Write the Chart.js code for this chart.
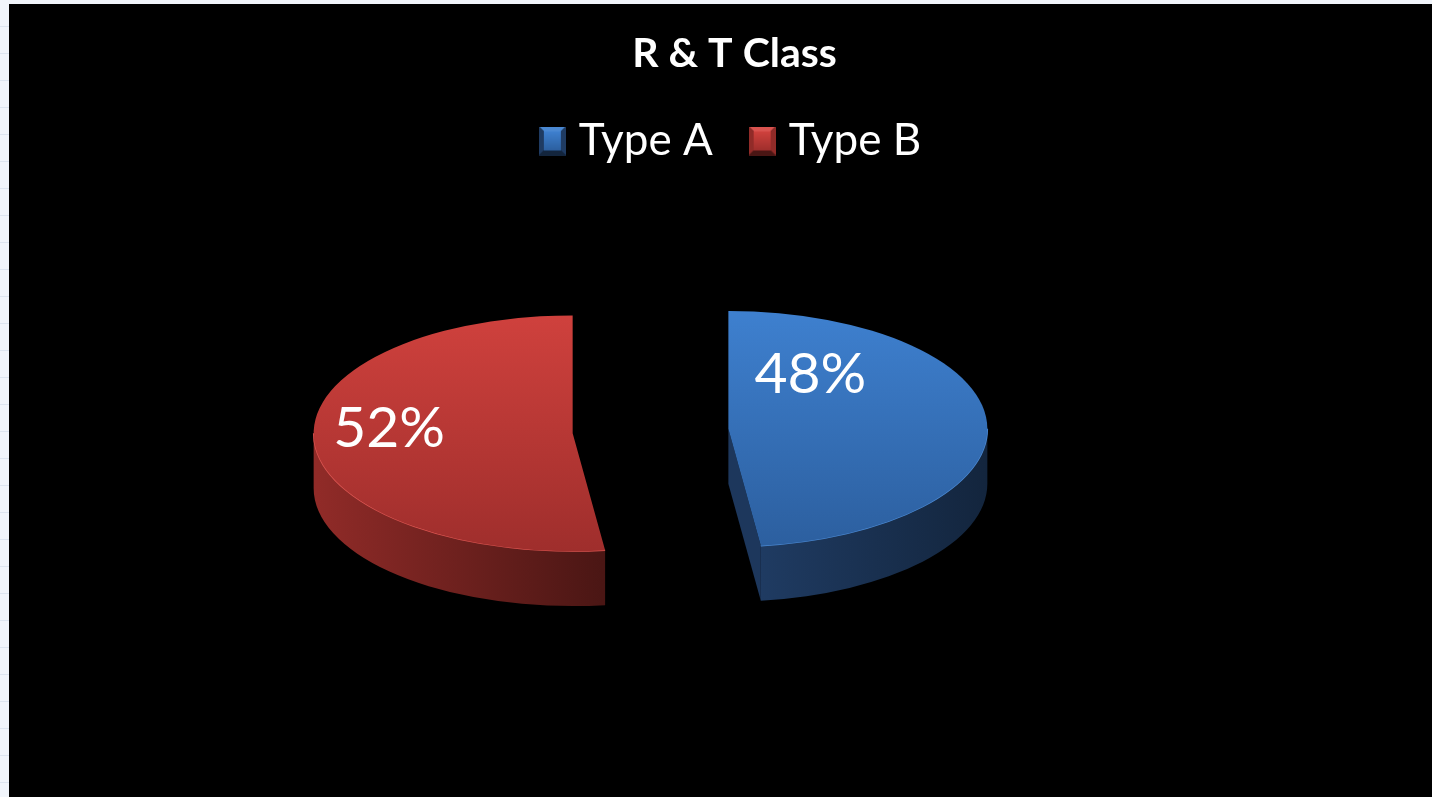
<!DOCTYPE html>
<html>
<head>
<meta charset="utf-8">
<title>R &amp; T Class</title>
<script src="https://cdn.jsdelivr.net/npm/chart.js@4.4.1/dist/chart.umd.min.js"></script>
<style>
  html, body { margin: 0; height: 100%; }
  body {
    background-color: #f1f5fb;
    background-image: repeating-linear-gradient(to bottom, transparent 0 26px, #dde5f0 26px 27px);
    overflow: hidden;
  }
  #wrap { position: absolute; left: 9px; top: 4px; width: 1423px; height: 793px; background: #000; }
</style>
</head>
<body>
<div id="wrap"><canvas id="classChart"></canvas></div>
<script>
const categories = ['Type A', 'Type B'];
const shares = [48, 52];

// shading for each slice: top face, outer wall, cut face, rim highlight
const shades = [
  { topLight: '#3e80cf', topDark: '#2c5f9f', sideLight: '#1f3b62', sideDark: '#13253d', face: '#1d375c', rim: '#4a88d2' },
  { topLight: '#cf413d', topDark: '#9f2e2c', sideLight: '#912b28', sideDark: '#4a1614', face: '#a8302d', rim: '#d9534f' }
];

// small bevelled squares for the legend
function bevelBox(s, w, h) {
  const c = document.createElement('canvas');
  c.width = w; c.height = h;
  const g = c.getContext('2d');
  const b = 5;
  const poly = (pts, fill) => {
    g.beginPath();
    pts.forEach(([x, y], k) => k ? g.lineTo(x, y) : g.moveTo(x, y));
    g.closePath();
    g.fillStyle = fill;
    g.fill();
  };
  poly([[0, 0], [w, 0], [w - b, b], [b, b]], s.rim);
  poly([[0, h], [w, h], [w - b, h - b], [b, h - b]], s.sideDark);
  poly([[0, 0], [b, b], [b, h - b], [0, h]], s.sideLight);
  poly([[w, 0], [w - b, b], [w - b, h - b], [w, h]], s.sideLight);
  const inner = g.createLinearGradient(0, b, 0, h - b);
  inner.addColorStop(0, s.topLight);
  inner.addColorStop(1, s.topDark);
  g.fillStyle = inner;
  g.fillRect(b, b, w - 2 * b, h - 2 * b);
  return c;
}
const legendIcons = shades.map(s => bevelBox(s, 27, 29));

// draws the pie as a tilted, extruded disc using the arcs Chart.js laid out
const pie3d = {
  id: 'pie3d',
  beforeDatasetsDraw(chart, args, opts) {
    const ctx = chart.ctx;
    const meta = chart.getDatasetMeta(0);
    const spots = [];
    ctx.save();
    meta.data.forEach((arc, i) => {
      const p = arc.getProps(['x', 'y', 'startAngle', 'endAngle', 'outerRadius'], true);
      const a0 = p.startAngle, a1 = p.endAngle;
      const mid = (a0 + a1) / 2;
      const off = arc.options.offset;
      const rx = p.outerRadius, ry = rx * opts.tilt, d = opts.depth;
      const cx = p.x + opts.shiftX + Math.cos(mid) * off;
      const cy = p.y + Math.sin(mid) * off * opts.tilt;
      const s = shades[i];

      // radial cut faces that turn towards the viewer
      const face = a => {
        const px = cx + rx * Math.cos(a), py = cy + ry * Math.sin(a);
        ctx.beginPath();
        ctx.moveTo(cx, cy);
        ctx.lineTo(px, py);
        ctx.lineTo(px, py + d);
        ctx.lineTo(cx, cy + d);
        ctx.closePath();
        ctx.fillStyle = s.face;
        ctx.fill();
      };
      if (Math.sin(a0 - Math.PI / 2) > 0.01) face(a0);
      if (Math.sin(a1 + Math.PI / 2) > 0.01) face(a1);

      // outer wall on the front half of the disc
      for (const base of [-2 * Math.PI, 0, 2 * Math.PI]) {
        const st = Math.max(a0, base), en = Math.min(a1, base + Math.PI);
        if (en <= st) continue;
        let xMin = Infinity, xMax = -Infinity;
        for (let k = 0; k <= 40; k++) {
          const xx = cx + rx * Math.cos(st + (en - st) * k / 40);
          xMin = Math.min(xMin, xx); xMax = Math.max(xMax, xx);
        }
        ctx.beginPath();
        ctx.ellipse(cx, cy, rx, ry, 0, st, en);
        ctx.ellipse(cx, cy + d, rx, ry, 0, en, st, true);
        ctx.closePath();
        const g = ctx.createLinearGradient(xMin, 0, xMax, 0);
        g.addColorStop(0, s.sideLight);
        g.addColorStop(1, s.sideDark);
        ctx.fillStyle = g;
        ctx.fill();
        ctx.beginPath();
        ctx.ellipse(cx, cy, rx, ry, 0, st, en);
        ctx.strokeStyle = s.rim;
        ctx.lineWidth = 1.5;
        ctx.stroke();
      }

      // top face
      ctx.beginPath();
      ctx.moveTo(cx, cy);
      ctx.ellipse(cx, cy, rx, ry, 0, a0, a1);
      ctx.closePath();
      const tg = ctx.createLinearGradient(0, cy - ry, 0, cy + ry);
      tg.addColorStop(0, s.topLight);
      tg.addColorStop(1, s.topDark);
      ctx.fillStyle = tg;
      ctx.fill();

      const place = opts.labels[i];
      const ang = mid + place.turn * Math.PI / 180;
      spots.push({
        x: cx + rx * place.along * Math.cos(ang),
        y: cy + ry * place.along * Math.sin(ang),
        text: chart.data.datasets[0].data[i] + '%'
      });
    });

    ctx.fillStyle = '#ffffff';
    ctx.font = opts.labelFont;
    ctx.textAlign = 'center';
    ctx.textBaseline = 'middle';
    spots.forEach(t => ctx.fillText(t.text, t.x, t.y));
    ctx.restore();
    return false;
  }
};

const ctx = document.getElementById('classChart').getContext('2d');
const classChart = new Chart(ctx, {
  type: 'pie',
  data: {
    labels: categories,
    datasets: [{
      data: shares,
      backgroundColor: shades.map(s => s.topLight),
      borderWidth: 0,
      offset: 78,
      radius: 259
    }]
  },
  options: {
    responsive: true,
    maintainAspectRatio: false,
    animation: false,
    events: [],
    layout: { padding: { left: 28, top: 0, right: 0, bottom: 108 } },
    plugins: {
      title: {
        display: true,
        text: 'R & T Class',
        color: '#ffffff',
        font: { family: 'Lato', size: 41, weight: 'bold', lineHeight: 1 },
        padding: { top: 29, bottom: 0 }
      },
      legend: {
        position: 'top',
        labels: {
          color: '#ffffff',
          font: { family: 'Lato', size: 44 },
          usePointStyle: true,
          boxWidth: 9,
          boxHeight: 29,
          padding: 45,
          generateLabels: () => categories.map((name, i) => ({
            text: name,
            pointStyle: legendIcons[i],
            fillStyle: shades[i].topLight,
            strokeStyle: 'transparent',
            lineWidth: 0,
            fontColor: '#ffffff',
            hidden: false,
            index: i
          }))
        }
      },
      tooltip: { enabled: false },
      pie3d: {
        tilt: 0.455,
        depth: 55,
        shiftX: -84,
        labelFont: '57px Lato',
        labels: [{ along: 0.56, turn: -52 }, { along: 0.71, turn: 7 }]
      }
    }
  },
  plugins: [pie3d]
});
</script>
</body>
</html>
